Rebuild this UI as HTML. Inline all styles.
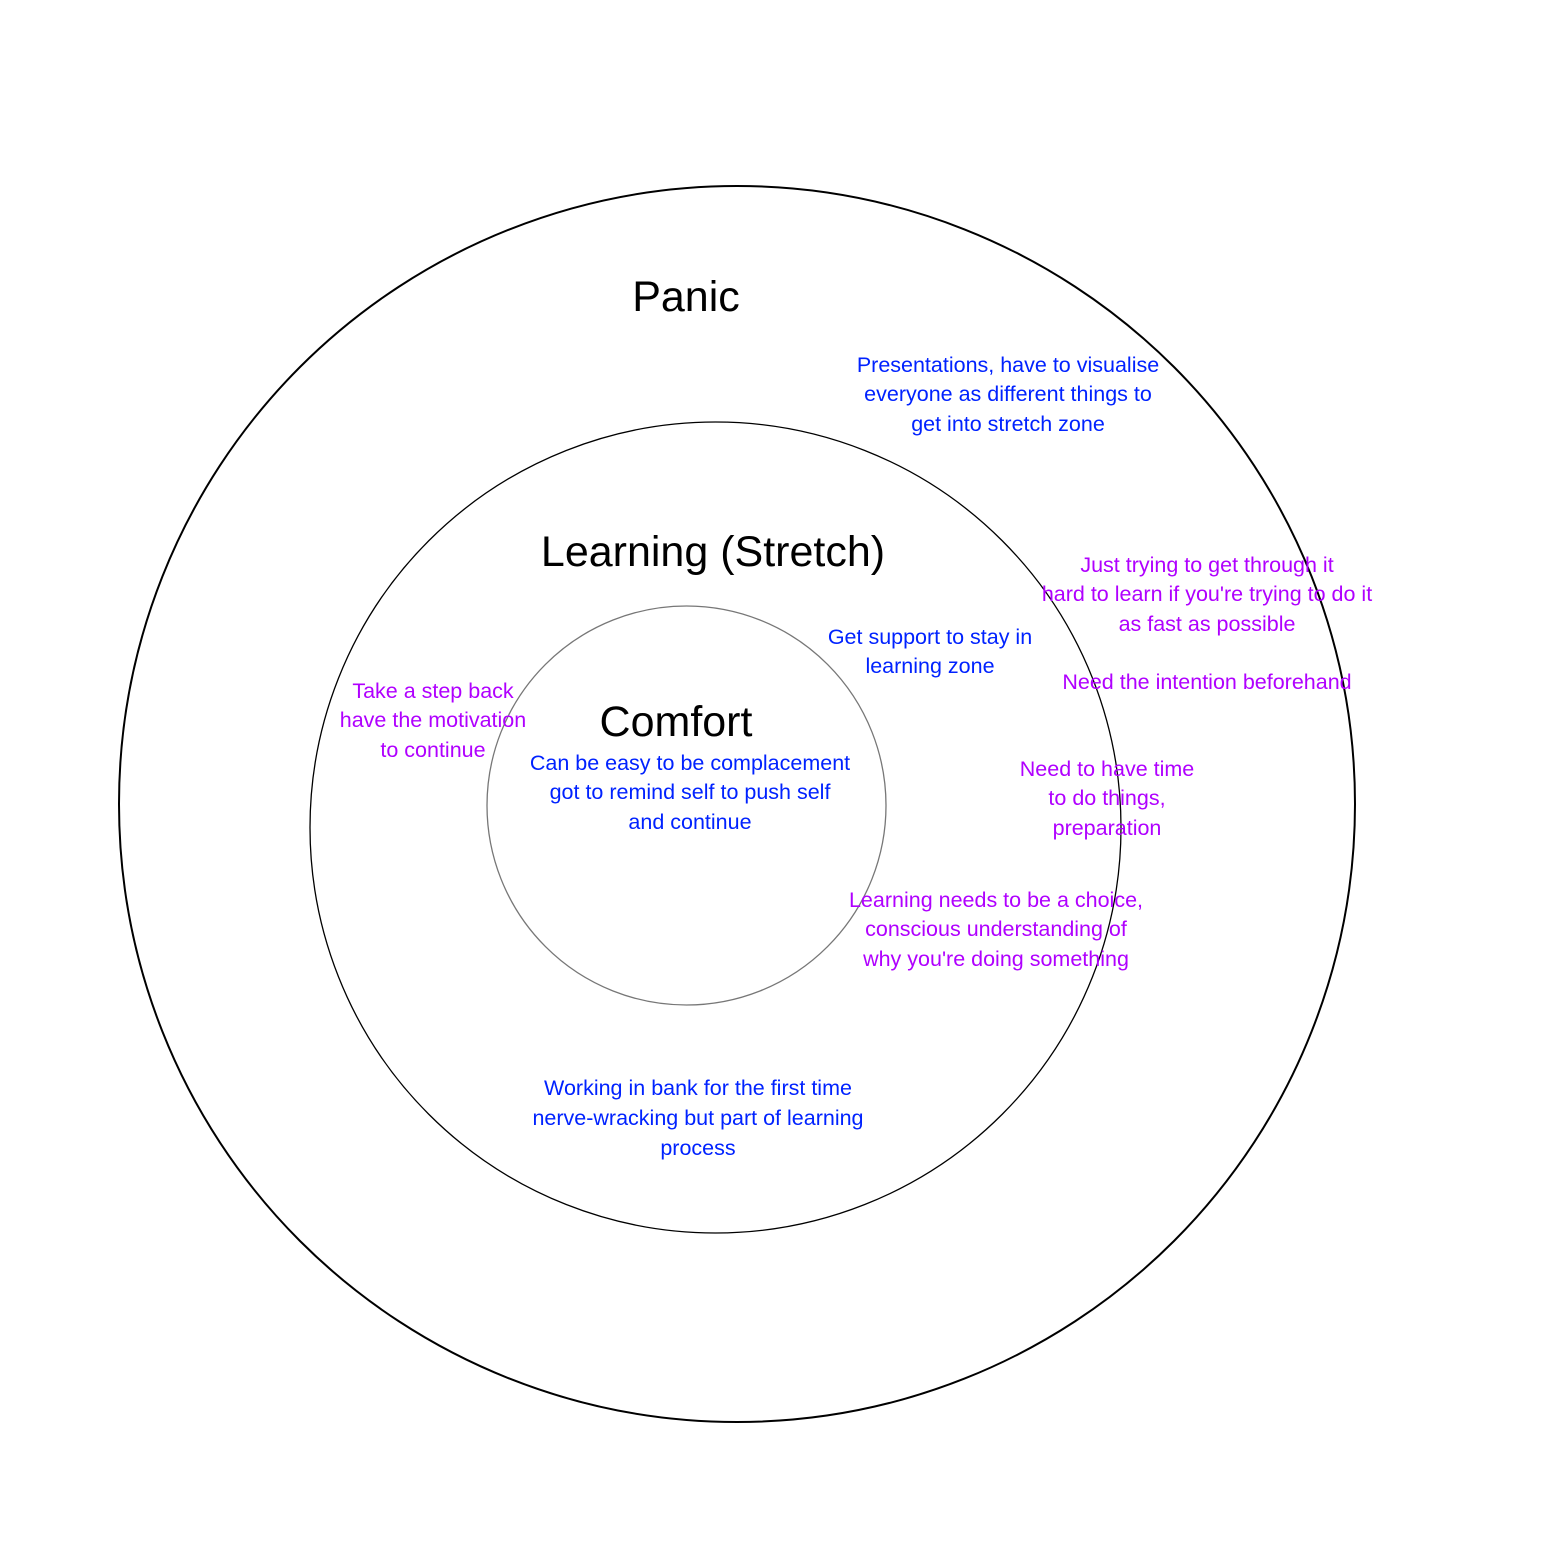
<!DOCTYPE html>
<html><head><style>html,body{margin:0;padding:0;background:#fff}svg{display:block}</style></head>
<body>
<svg width="1557" height="1557" viewBox="0 0 1557 1557" xmlns="http://www.w3.org/2000/svg" font-family="'Liberation Sans', sans-serif">
<circle cx="737" cy="804" r="618" fill="none" stroke="#000" stroke-width="2"/>
<circle cx="715.5" cy="827.5" r="405.5" fill="none" stroke="#000" stroke-width="1.3"/>
<circle cx="686.5" cy="805.5" r="199.5" fill="none" stroke="#777" stroke-width="1.3"/>
<g text-anchor="middle" fill="#000" font-size="43">
<text x="686" y="311">Panic</text>
<text x="713" y="566">Learning (Stretch)</text>
<text x="676" y="736">Comfort</text>
</g>
<g text-anchor="middle" font-size="21.5" fill="#0022ff">
<text x="1008" y="372">Presentations, have to visualise</text>
<text x="1008" y="401">everyone as different things to</text>
<text x="1008" y="431">get into stretch zone</text>
<text x="930" y="644">Get support to stay in</text>
<text x="930" y="673">learning zone</text>
<text x="690" y="770">Can be easy to be complacement</text>
<text x="690" y="799">got to remind self to push self</text>
<text x="690" y="829">and continue</text>
<text x="698" y="1095">Working in bank for the first time</text>
<text x="698" y="1125">nerve-wracking but part of learning</text>
<text x="698" y="1155">process</text>
</g>
<g text-anchor="middle" font-size="21.5" fill="#b000ff">
<text x="1207" y="572">Just trying to get through it</text>
<text x="1207" y="601">hard to learn if you're trying to do it</text>
<text x="1207" y="631">as fast as possible</text>
<text x="1207" y="689">Need the intention beforehand</text>
<text x="433" y="698">Take a step back</text>
<text x="433" y="727">have the motivation</text>
<text x="433" y="757">to continue</text>
<text x="1107" y="776">Need to have time</text>
<text x="1107" y="805">to do things,</text>
<text x="1107" y="835">preparation</text>
<text x="996" y="907">Learning needs to be a choice,</text>
<text x="996" y="936">conscious understanding of</text>
<text x="996" y="966">why you're doing something</text>
</g>
</svg>
</body></html>
